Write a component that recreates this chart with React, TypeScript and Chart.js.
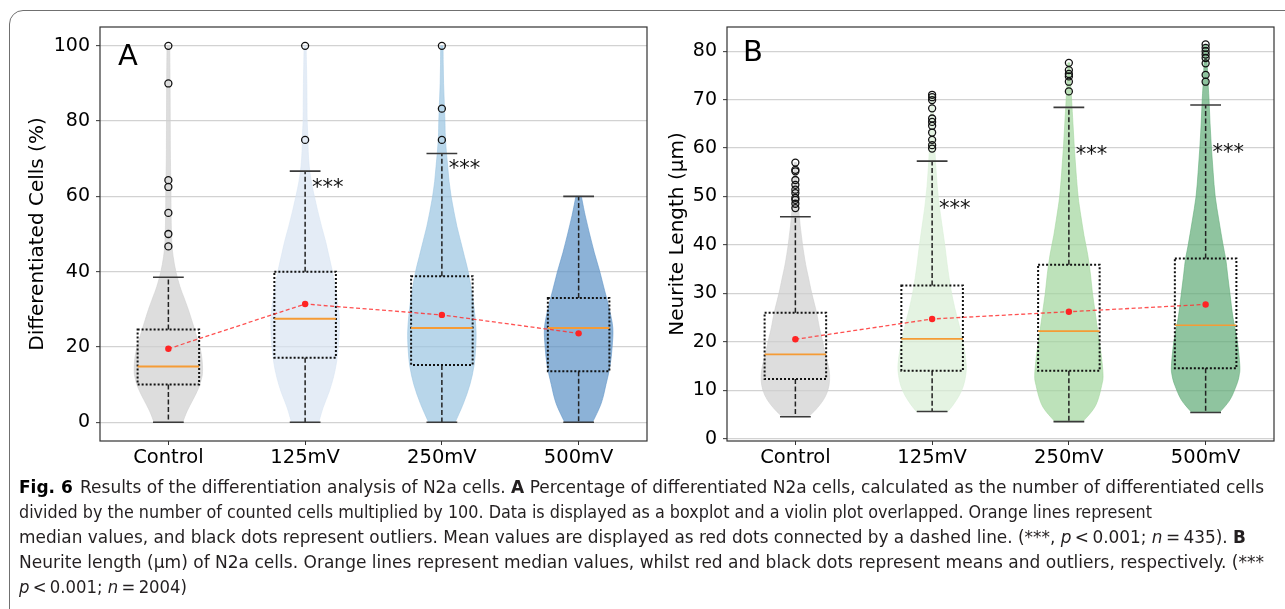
import React, { useEffect, useLayoutEffect, useRef } from "react";
import { Chart, registerables } from "chart.js";

Chart.register(...registerables);

// ---------- shared ----------
const categories = ["Control", "125mV", "250mV", "500mV"];

// ---------- Panel A : Differentiated Cells (%) ----------
const aYTicks = [0, 20, 40, 60, 80, 100];
const aMeans = [19.5, 31.4, 28.5, 23.6];
const aMedians = [14.8, 27.5, 25.0, 25.0];
const aQ1 = [10.0, 17.1, 15.2, 13.5];
const aQ3 = [24.6, 40.0, 38.8, 33.0];
const aWhiskerLow = [0, 0, 0, 0];
const aWhiskerHigh = [38.5, 66.7, 71.4, 60.0];
const aOutControl = [100, 90, 64.3, 62.5, 55.6, 50.0, 46.7];
const aOut125 = [100, 75.0];
const aOut250 = [100, 83.3, 75.0];
const aOut500: number[] = [];
const aStarY = [null, 63.9, 68.8, null];
// violin KDE profiles: [value, relative density]
const aViolinControl = [[0, 0.42], [3, 0.55], [6, 0.72], [9, 0.88], [12, 0.98], [14, 1.0], [17, 0.98], [20, 0.92], [23, 0.82], [26, 0.72], [30, 0.58], [33, 0.46], [36, 0.34], [40, 0.22], [44, 0.14], [48, 0.1], [55, 0.08], [62, 0.075], [70, 0.06], [80, 0.055], [90, 0.05], [100, 0.04]];
const aViolin125 = [[0, 0.4], [4, 0.53], [8, 0.7], [12, 0.83], [16, 0.92], [20, 0.97], [24, 1.0], [28, 1.0], [32, 0.95], [36, 0.88], [40, 0.8], [44, 0.7], [48, 0.6], [52, 0.48], [56, 0.37], [60, 0.27], [64, 0.18], [68, 0.12], [72, 0.09], [76, 0.08], [80, 0.06], [85, 0.055], [90, 0.05], [95, 0.04], [100, 0.03]];
const aViolin250 = [[0, 0.39], [5, 0.63], [10, 0.82], [15, 0.94], [20, 0.99], [24, 1.0], [28, 0.97], [32, 0.92], [36, 0.85], [40, 0.77], [44, 0.66], [48, 0.55], [52, 0.44], [56, 0.35], [60, 0.27], [64, 0.21], [68, 0.17], [72, 0.13], [76, 0.1], [80, 0.09], [85, 0.07], [90, 0.05], [95, 0.04], [100, 0.035]];
const aViolin500 = [[0, 0.41], [5, 0.66], [10, 0.8], [15, 0.92], [20, 0.98], [25, 1.0], [30, 0.9], [35, 0.76], [40, 0.62], [45, 0.46], [50, 0.32], [55, 0.19], [60, 0.08]];
const aColors = ["rgba(206,206,206,0.7)", "rgba(216,228,242,0.7)", "rgba(154,196,225,0.7)", "rgba(91,146,198,0.7)"];

// ---------- Panel B : Neurite Length (µm) ----------
const bYTicks = [0, 10, 20, 30, 40, 50, 60, 70, 80];
const bMeans = [20.5, 24.7, 26.2, 27.7];
const bMedians = [17.4, 20.6, 22.2, 23.4];
const bQ1 = [12.3, 14.0, 14.0, 14.5];
const bQ3 = [26.0, 31.6, 35.9, 37.2];
const bWhiskerLow = [4.5, 5.6, 3.5, 5.4];
const bWhiskerHigh = [45.8, 57.3, 68.4, 68.9];
const bOutControl = [57.0, 55.5, 55.2, 53.4, 52.4, 51.4, 50.7, 49.7, 49.3, 48.5, 47.6];
const bOut125 = [71.0, 70.5, 69.9, 68.2, 66.1, 65.4, 64.6, 63.2, 61.7, 60.6, 59.9];
const bOut250 = [77.6, 76.1, 75.3, 74.8, 73.7, 71.7];
const bOut500 = [81.4, 80.7, 80.0, 79.3, 78.6, 77.5, 75.1, 73.7];
const bStarY = [null, 48.6, 59.8, 60.3];
const bViolinControl = [[4.5, 0.38], [6, 0.6], [8, 0.82], [10, 0.95], [12, 1.0], [14, 0.99], [16, 0.93], [18, 0.86], [20, 0.8], [23, 0.7], [26, 0.62], [30, 0.48], [33, 0.39], [36, 0.3], [40, 0.21], [44, 0.14], [48, 0.09], [52, 0.06], [57, 0.03]];
const bViolin125 = [[5.6, 0.46], [7, 0.62], [9, 0.8], [11, 0.92], [13, 0.98], [15, 1.0], [18, 0.95], [21, 0.87], [24, 0.77], [27, 0.66], [30, 0.57], [33, 0.5], [36, 0.44], [40, 0.37], [44, 0.29], [48, 0.21], [52, 0.15], [56, 0.11], [60, 0.08], [65, 0.05], [71, 0.03]];
const bViolin250 = [[3.5, 0.41], [6, 0.71], [8, 0.85], [11, 0.96], [13, 1.0], [17, 0.95], [22, 0.85], [26, 0.77], [30, 0.69], [34, 0.63], [38, 0.55], [42, 0.44], [46, 0.35], [50, 0.27], [55, 0.21], [60, 0.16], [65, 0.12], [70, 0.08], [74, 0.05], [77.6, 0.03]];
const bViolin500 = [[5.4, 0.41], [8, 0.71], [11, 0.9], [13, 0.98], [15, 1.0], [20, 0.93], [25, 0.8], [30, 0.71], [34, 0.64], [37, 0.59], [40, 0.51], [45, 0.39], [50, 0.28], [55, 0.22], [60, 0.17], [65, 0.13], [70, 0.1], [75, 0.06], [81.4, 0.03]];
const bColors = ["rgba(206,206,206,0.7)", "rgba(216,238,214,0.7)", "rgba(161,214,156,0.7)", "rgba(95,171,118,0.7)"];

// ---------- styling constants ----------
const VIOLIN_HALF = 0.25;
const BOX_HALF = 0.225;
const CAP_HALF = 0.1125;
const FONT = "'DejaVu Sans', sans-serif";

type Panel = {
  letter: string;
  letterDx: number;
  letterY: number;
  yTitle: string;
  yMin: number;
  yMax: number;
  yTicks: number[];
  means: number[];
  medians: number[];
  q1: number[];
  q3: number[];
  wLo: number[];
  wHi: number[];
  outliers: number[][];
  violins: number[][][];
  colors: string[];
  starY: (number | null)[];
  yAxisWidth: number;
  titlePad: number;
  padRight: number;
  medianWidth: number;
};

const panelA: Panel = {
  letter: "A", letterDx: 18, letterY: 65,
  yTitle: "Differentiated Cells (%)", yMin: -5, yMax: 105, yTicks: aYTicks,
  means: aMeans, medians: aMedians, q1: aQ1, q3: aQ3, wLo: aWhiskerLow, wHi: aWhiskerHigh,
  outliers: [aOutControl, aOut125, aOut250, aOut500],
  violins: [aViolinControl, aViolin125, aViolin250, aViolin500],
  colors: aColors, starY: aStarY,
  yAxisWidth: 100, titlePad: 26, padRight: 13, medianWidth: 2,
};

const panelB: Panel = {
  letter: "B", letterDx: 16, letterY: 61,
  yTitle: "Neurite Length (µm)", yMin: -0.5, yMax: 85, yTicks: bYTicks,
  means: bMeans, medians: bMedians, q1: bQ1, q3: bQ3, wLo: bWhiskerLow, wHi: bWhiskerHigh,
  outliers: [bOutControl, bOut125, bOut250, bOut500],
  violins: [bViolinControl, bViolin125, bViolin250, bViolin500],
  colors: bColors, starY: bStarY,
  yAxisWidth: 67, titlePad: 6, padRight: 11, medianWidth: 1.7,
};

function smoothThrough(ctx: CanvasRenderingContext2D, pts: number[][], move: boolean) {
  const n = pts.length;
  if (move) ctx.moveTo(pts[0][0], pts[0][1]);
  else ctx.lineTo(pts[0][0], pts[0][1]);
  for (let i = 0; i < n - 1; i++) {
    const p0 = pts[Math.max(i - 1, 0)];
    const p1 = pts[i];
    const p2 = pts[i + 1];
    const p3 = pts[Math.min(i + 2, n - 1)];
    const c1x = p1[0] + (p2[0] - p0[0]) / 6;
    const c1y = p1[1] + (p2[1] - p0[1]) / 6;
    const c2x = p2[0] - (p3[0] - p1[0]) / 6;
    const c2y = p2[1] - (p3[1] - p1[1]) / 6;
    ctx.bezierCurveTo(c1x, c1y, c2x, c2y, p2[0], p2[1]);
  }
}

function makePlugin(p: Panel) {
  return {
    id: "boxViolin" + p.letter,
    beforeDatasetsDraw(chart: any) {
      const { ctx, chartArea, scales } = chart;
      const x = scales.x;
      const y = scales.y;
      ctx.save();
      ctx.beginPath();
      ctx.rect(chartArea.left, chartArea.top, chartArea.width, chartArea.height);
      ctx.clip();
      // violins
      p.violins.forEach((prof, i) => {
        const c = i + 1;
        const right = prof.map(([v, d]) => [x.getPixelForValue(c + d * VIOLIN_HALF), y.getPixelForValue(v)]);
        const left = prof
          .slice()
          .reverse()
          .map(([v, d]) => [x.getPixelForValue(c - d * VIOLIN_HALF), y.getPixelForValue(v)]);
        ctx.beginPath();
        smoothThrough(ctx, right, true);
        smoothThrough(ctx, left, false);
        ctx.closePath();
        ctx.fillStyle = p.colors[i];
        ctx.fill();
        ctx.lineWidth = 0.8;
        ctx.strokeStyle = p.colors[i];
        ctx.stroke();
      });
      // boxes
      p.means.forEach((_, i) => {
        const c = i + 1;
        const xc = x.getPixelForValue(c);
        const xl = x.getPixelForValue(c - BOX_HALF);
        const xr = x.getPixelForValue(c + BOX_HALF);
        const cl = x.getPixelForValue(c - CAP_HALF);
        const cr = x.getPixelForValue(c + CAP_HALF);
        const yq1 = y.getPixelForValue(p.q1[i]);
        const yq3 = y.getPixelForValue(p.q3[i]);
        const ylo = y.getPixelForValue(p.wLo[i]);
        const yhi = y.getPixelForValue(p.wHi[i]);
        const ymed = y.getPixelForValue(p.medians[i]);
        // whiskers
        ctx.setLineDash([5, 2.5]);
        ctx.strokeStyle = "#222";
        ctx.lineWidth = 1.5;
        ctx.beginPath();
        ctx.moveTo(xc, yq3);
        ctx.lineTo(xc, yhi);
        ctx.moveTo(xc, yq1);
        ctx.lineTo(xc, ylo);
        ctx.stroke();
        // caps
        ctx.setLineDash([]);
        ctx.strokeStyle = "#3a3a3a";
        ctx.lineWidth = 1.6;
        ctx.beginPath();
        ctx.moveTo(cl, yhi);
        ctx.lineTo(cr, yhi);
        ctx.moveTo(cl, ylo);
        ctx.lineTo(cr, ylo);
        ctx.stroke();
        // box (dotted)
        ctx.setLineDash([2, 2]);
        ctx.strokeStyle = "#111";
        ctx.lineWidth = 2;
        ctx.strokeRect(xl, yq3, xr - xl, yq1 - yq3);
        // median
        ctx.setLineDash([]);
        ctx.strokeStyle = "#f59b35";
        ctx.lineWidth = p.medianWidth;
        ctx.beginPath();
        ctx.moveTo(xl, ymed);
        ctx.lineTo(xr, ymed);
        ctx.stroke();
      });
      ctx.restore();
    },
    afterDatasetsDraw(chart: any) {
      const { ctx, chartArea, scales } = chart;
      const x = scales.x;
      const y = scales.y;
      ctx.save();
      // significance stars
      ctx.fillStyle = "#111";
      ctx.font = `21px ${FONT}`;
      ctx.textAlign = "left";
      ctx.textBaseline = "alphabetic";
      p.starY.forEach((v, i) => {
        if (v === null) return;
        ctx.fillText("***", x.getPixelForValue(i + 1.05), y.getPixelForValue(v) + 12);
      });
      // panel letter
      ctx.fillStyle = "#000";
      ctx.font = `29px ${FONT}`;
      ctx.fillText(p.letter, chartArea.left + p.letterDx, p.letterY);
      // spines
      ctx.strokeStyle = "#333";
      ctx.lineWidth = 1.2;
      ctx.strokeRect(chartArea.left, chartArea.top, chartArea.right - chartArea.left, chartArea.bottom - chartArea.top);
      ctx.restore();
    },
  };
}

function makeConfig(p: Panel): any {
  const meanData = p.means.map((m, i) => ({ x: i + 1, y: m }));
  const outlierData = p.outliers.flatMap((arr, i) => arr.map((v) => ({ x: i + 1, y: v })));
  return {
    type: "line",
    data: {
      datasets: [
        {
          data: meanData,
          borderColor: "rgba(255,50,50,0.85)",
          borderWidth: 1.3,
          borderDash: [4, 2.5],
          pointRadius: 3.2,
          pointBackgroundColor: "#ff2424",
          pointBorderColor: "#ff2424",
          pointBorderWidth: 0,
          fill: false,
          tension: 0,
        },
        {
          data: outlierData,
          showLine: false,
          pointRadius: 3.5,
          pointBackgroundColor: "rgba(0,0,0,0)",
          pointBorderColor: "#111",
          pointBorderWidth: 1.3,
        },
      ],
    },
    options: {
      responsive: false,
      animation: false,
      events: [],
      layout: { padding: { left: 0, right: p.padRight, top: 27, bottom: 0 } },
      plugins: { legend: { display: false }, tooltip: { enabled: false } },
      scales: {
        x: {
          type: "linear",
          min: 0.5,
          max: 4.5,
          afterBuildTicks: (s: any) => {
            s.ticks = categories.map((_, i) => ({ value: i + 1 }));
          },
          afterFit: (s: any) => {
            s.height = 34;
          },
          ticks: {
            callback: (_v: any, idx: number) => categories[idx],
            font: { family: FONT, size: 19.5 },
            color: "#000",
            padding: 1,
            autoSkip: false,
            maxRotation: 0,
          },
          grid: { drawOnChartArea: false, drawTicks: true, tickLength: 4, tickColor: "#333", tickWidth: 1 },
          border: { display: false },
        },
        y: {
          min: p.yMin,
          max: p.yMax,
          afterBuildTicks: (s: any) => {
            s.ticks = p.yTicks.map((v) => ({ value: v }));
          },
          afterFit: (s: any) => {
            s.width = p.yAxisWidth;
          },
          ticks: { font: { family: FONT, size: 19 }, color: "#000", padding: 6 },
          grid: { color: "#d2d2d2", lineWidth: 1.3, tickColor: "#333", tickLength: 4, tickWidth: 1 },
          border: { display: false },
          title: {
            display: true,
            text: p.yTitle,
            font: { family: FONT, size: 20 },
            color: "#000",
            padding: { top: p.titlePad, bottom: 0 },
          },
        },
      },
    },
    plugins: [makePlugin(p)],
  };
}

function PanelChart({ panel, left, width }: { panel: Panel; left: number; width: number }) {
  const ref = useRef<HTMLCanvasElement | null>(null);
  useEffect(() => {
    if (!ref.current) return;
    const chart = new Chart(ref.current, makeConfig(panel));
    return () => chart.destroy();
  }, [panel]);
  return (
    <canvas
      ref={ref}
      width={width}
      height={475}
      style={{ position: "absolute", left, top: 0, width, height: 475 }}
    />
  );
}

const captionTargetWidths = [1245, 1133, 1227, 1245, 168];

function Caption() {
  const refs = useRef<(HTMLSpanElement | null)[]>([]);
  useLayoutEffect(() => {
    refs.current.forEach((el, i) => {
      if (!el) return;
      el.style.transform = "none";
      const w = el.getBoundingClientRect().width;
      if (w > 0) el.style.transform = `scaleX(${captionTargetWidths[i] / w})`;
    });
  }, []);
  const lines: React.ReactNode[] = [
    <>
      <b style={{ color: "#000" }}>Fig. 6</b>
      <span style={{ display: "inline-block", width: 7 }} />
      Results of the differentiation analysis of N2a cells. <b>A</b> Percentage of differentiated N2a cells, calculated as the number of differentiated cells
    </>,
    <>divided by the number of counted cells multiplied by 100. Data is displayed as a boxplot and a violin plot overlapped. Orange lines represent</>,
    <>
      median values, and black dots represent outliers. Mean values are displayed as red dots connected by a dashed line. (***, <i>p</i>{"\u2009<\u2009"}0.001; <i>n</i>{"\u2009=\u2009"}435). <b>B</b>
    </>,
    <>Neurite length (µm) of N2a cells. Orange lines represent median values, whilst red and black dots represent means and outliers, respectively. (***</>,
    <>
      <i>p</i>
      {"\u2009<\u2009"}0.001; <i>n</i>
      {"\u2009=\u2009"}2004)
    </>,
  ];
  return (
    <div
      style={{
        position: "absolute",
        left: 19,
        top: 473.5,
        fontFamily: "'Liberation Sans Narrow', 'DejaVu Sans Condensed', 'Liberation Sans', sans-serif",
        fontSize: 18,
        lineHeight: "25px",
        color: "#231f20",
      }}
    >
      {lines.map((ln, i) => (
        <div key={i} style={{ height: 25, whiteSpace: "nowrap" }}>
          <span
            ref={(el) => {
              refs.current[i] = el;
            }}
            style={{ display: "inline-block", transformOrigin: "0 0", whiteSpace: "nowrap" }}
          >
            {ln}
          </span>
        </div>
      ))}
    </div>
  );
}

export default function App() {
  return (
    <div
      style={{
        position: "absolute",
        left: 0,
        top: 0,
        width: 1285,
        height: 609,
        overflow: "hidden",
        background: "#fff",
      }}
    >
      <div
        style={{
          position: "absolute",
          left: 9,
          top: 10,
          width: 1500,
          height: 800,
          border: "1.3px solid #707070",
          borderRadius: 14,
          boxSizing: "border-box",
        }}
      />
      <PanelChart panel={panelA} left={0} width={660} />
      <PanelChart panel={panelB} left={660} width={625} />
      <Caption />
    </div>
  );
}
